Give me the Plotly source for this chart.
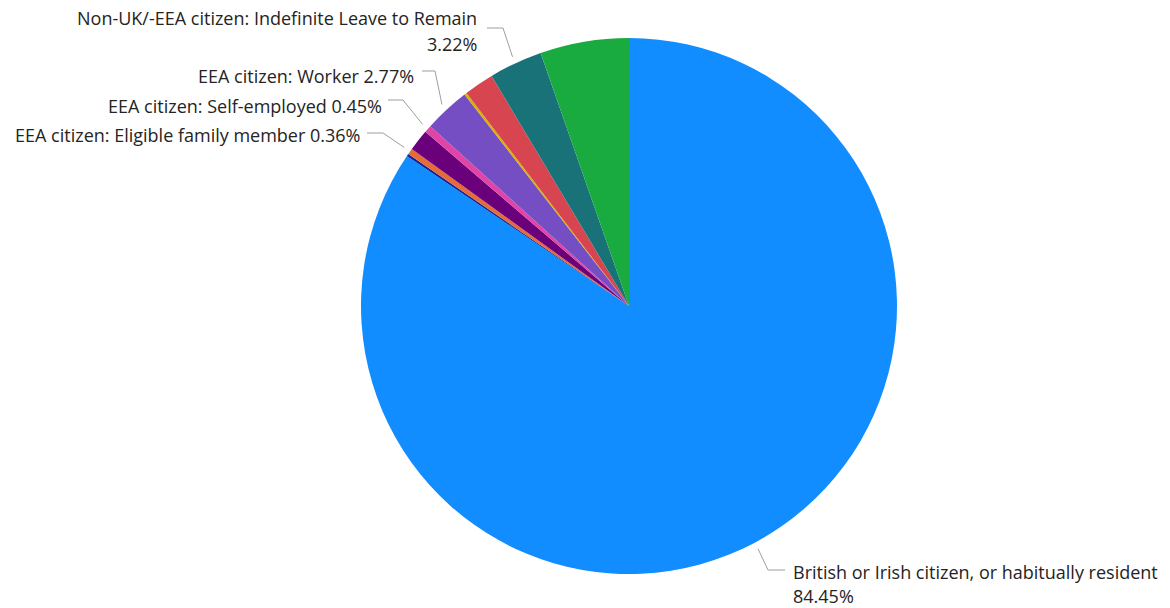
import math
import plotly.graph_objects as go

# Share of people by right-to-work / residency status (%), clockwise from 12 o'clock
categories = [
    "British or Irish citizen, or habitually resident",
    "EEA citizen: Student",
    "EEA citizen: Eligible family member",
    "Non-UK/-EEA citizen: Limited Leave to Remain",
    "EEA citizen: Self-employed",
    "EEA citizen: Worker",
    "EEA citizen: Self-sufficient",
    "Non-UK/-EEA citizen: Work visa",
    "Non-UK/-EEA citizen: Indefinite Leave to Remain",
    "Not known",
]
shares = [84.45, 0.15, 0.36, 1.30, 0.45, 2.77, 0.15, 1.80, 3.22, 5.35]
colors = ["#118DFF", "#12239E", "#E66C37", "#6B007B", "#E044A7",
          "#744EC2", "#D9B300", "#D64550", "#197278", "#1AAB40"]

W, H = 1170, 608
CX, CY, R = 629, 306, 268  # pie centre and radius in pixels

fig = go.Figure(go.Pie(
    labels=categories,
    values=shares,
    sort=False,
    direction="clockwise",
    rotation=0,
    marker=dict(colors=colors, line=dict(width=0)),
    textinfo="none",
    hovertemplate="%{label}<br>%{value:.2f}%<extra></extra>",
    domain=dict(x=[(CX - R) / W, (CX + R) / W],
                y=[(H - CY - R) / H, (H - CY + R) / H]),
    showlegend=False,
))

# Leader-line elbows and label anchors (pixels) for the labelled slices
label_layout = {
    "Non-UK/-EEA citizen: Indefinite Leave to Remain":
        dict(elbow=(503, 28), end=(487, 28), text_x=479, lines_y=(18, 44), side="right"),
    "EEA citizen: Worker":
        dict(elbow=(435, 71), end=(422, 71), text_x=416, lines_y=(76,), side="right"),
    "EEA citizen: Self-employed":
        dict(elbow=(403, 100), end=(388, 100), text_x=384, lines_y=(106,), side="right"),
    "EEA citizen: Eligible family member":
        dict(elbow=(383, 133), end=(367, 133), text_x=363, lines_y=(135,), side="right"),
    "British or Irish citizen, or habitually resident":
        dict(elbow=(768, 570), end=(785, 570), text_x=791, lines_y=(572, 596), side="left"),
}


def px(x):
    return x / W


def py(y):
    return 1 - y / H


total = sum(shares)
shapes, annotations = [], []
cum = 0.0
for name, val in zip(categories, shares):
    mid = (cum + val / 2) / total * 2 * math.pi
    cum += val
    if name not in label_layout:
        continue
    cfg = label_layout[name]
    sx = CX + (R + 7) * math.sin(mid)
    sy = CY - (R + 7) * math.cos(mid)
    ex, ey = cfg["elbow"]
    tx, ty = cfg["end"]
    shapes.append(dict(
        type="path", xref="paper", yref="paper",
        path=f"M {px(sx)},{py(sy)} L {px(ex)},{py(ey)} L {px(tx)},{py(ty)}",
        line=dict(color="#9E9E9E", width=1),
    ))
    pct = f"{val:.2f}%"
    if len(cfg["lines_y"]) == 2:
        texts = [name, pct]
    else:
        texts = [f"{name} {pct}"]
    for t, ly in zip(texts, cfg["lines_y"]):
        annotations.append(dict(
            x=px(cfg["text_x"]), y=py(ly), xref="paper", yref="paper",
            text=t, showarrow=False,
            xanchor="right" if cfg["side"] == "right" else "left",
            yanchor="middle",
            font=dict(family="Open Sans, Segoe UI, sans-serif", size=18, color="#252423"),
        ))

fig.update_layout(
    width=W, height=H,
    margin=dict(l=0, r=0, t=0, b=0),
    paper_bgcolor="white",
    plot_bgcolor="white",
    shapes=shapes,
    annotations=annotations,
)

fig.write_html("out.html")
